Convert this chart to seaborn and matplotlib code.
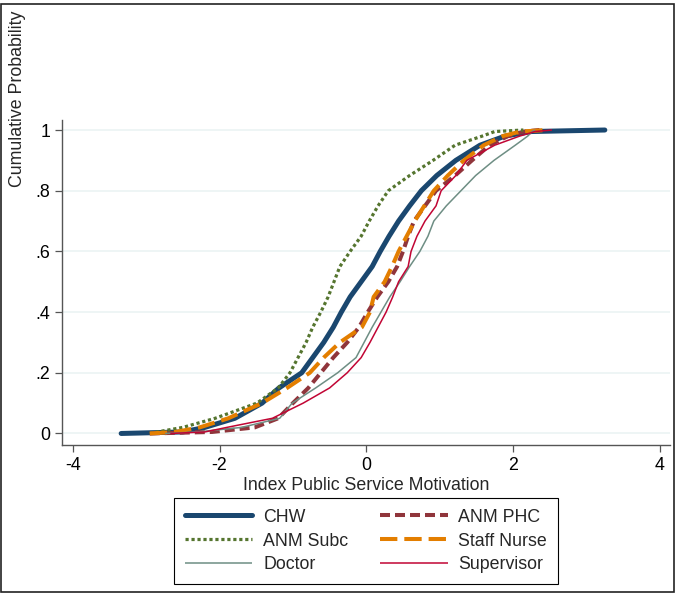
import numpy as np
import pandas as pd
import matplotlib
matplotlib.use('Agg')
import matplotlib.pyplot as plt
import matplotlib.patches as patches
import seaborn as sns

# cumulative probability levels and the index values
cum_prob = [0, 0.005, 0.02, 0.05, 0.1, 0.15, 0.2, 0.25, 0.3, 0.35, 0.4, 0.45, 0.5,
            0.55, 0.6, 0.65, 0.7, 0.75, 0.8, 0.85, 0.9, 0.95, 0.98, 0.995, 1.0]

chw = [-3.34, -2.50, -2.20, -1.79, -1.42, -1.19, -0.88, -0.73, -0.58, -0.45, -0.34, -0.22, -0.07,
       0.08, 0.19, 0.31, 0.44, 0.59, 0.75, 0.96, 1.22, 1.55, 1.89, 2.25, 3.25]
anm_phc = [-2.95, -2.10, -1.52, -1.20, -1.00, -0.79, -0.62, -0.45, -0.26, -0.10, 0.02, 0.15, 0.30,
           0.42, 0.50, 0.57, 0.65, 0.80, 0.95, 1.21, 1.44, 1.68, 1.93, 2.15, 2.36]
anm_subc = [-2.95, -2.85, -2.50, -2.06, -1.49, -1.20, -1.04, -0.93, -0.82, -0.73, -0.62, -0.52, -0.44,
            -0.36, -0.22, -0.07, 0.04, 0.16, 0.30, 0.59, 0.91, 1.21, 1.58, 1.75, 2.14]
staff_nurse = [-2.95, -2.60, -2.27, -1.88, -1.42, -1.08, -0.77, -0.58, -0.36, -0.06, 0.05, 0.10, 0.25,
               0.35, 0.44, 0.55, 0.66, 0.79, 0.92, 1.11, 1.33, 1.60, 1.86, 2.10, 2.46]
doctor = [-2.74, -2.30, -1.70, -1.18, -1.01, -0.69, -0.39, -0.14, -0.03, 0.08, 0.20, 0.32, 0.46,
          0.59, 0.73, 0.84, 0.92, 1.09, 1.29, 1.49, 1.74, 2.03, 2.20, 2.26, 2.30]
supervisor = [-2.67, -2.20, -1.90, -1.28, -0.86, -0.50, -0.26, -0.07, 0.05, 0.16, 0.27, 0.36, 0.44,
              0.57, 0.61, 0.69, 0.80, 0.95, 1.02, 1.22, 1.37, 1.75, 2.09, 2.30, 2.53]

groups = ['CHW', 'ANM PHC', 'ANM Subc', 'Staff Nurse', 'Doctor', 'Supervisor']
values = [chw, anm_phc, anm_subc, staff_nurse, doctor, supervisor]

x_ticks = [-4, -2, 0, 2, 4]
x_ticklabels = ['-4', '-2', '0', '2', '4']
y_ticks = [0, 0.2, 0.4, 0.6, 0.8, 1]
y_ticklabels = ['0', '.2', '.4', '.6', '.8', '1']

# styling (Stata s2color-like)
colors = ['#1a476f', '#90353b', '#55752f', '#e37e00', '#6e8e84', '#c10534']
widths = [3.6, 2.9, 2.3, 2.9, 1.1, 1.1]
styles = ['-', (0, (7.2, 3.6)), (0, (2.3, 2.0)), (0, (12.5, 5.0)), '-', '-']
fs = 12.8

df = pd.concat([pd.DataFrame({'group': g, 'x': v, 'p': cum_prob})
                for g, v in zip(groups, values)], ignore_index=True)

sns.set_style('white')
plt.rcParams['font.family'] = ['Liberation Sans', 'DejaVu Sans']
plt.rcParams['lines.scale_dashes'] = False

fig = plt.figure(figsize=(6.75, 5.93), dpi=100)
ax = fig.add_axes([62 / 675, 1 - 445 / 593, (670 - 62) / 675, (445 - 120) / 593])

for g, c, w, s in zip(groups, colors, widths, styles):
    sns.lineplot(data=df[df['group'] == g], x='x', y='p', sort=False, estimator=None,
                 color=c, lw=w, linestyle=s, label=g, ax=ax,
                 solid_capstyle='round' if g == 'CHW' else 'butt')

ax.set_xlim(-4.146, 4.138)
ax.set_ylim(-0.038, 1.033)
ax.set_xticks(x_ticks)
ax.set_xticklabels(x_ticklabels)
ax.set_yticks(y_ticks)
ax.set_yticklabels(y_ticklabels)

ax.set_axisbelow(True)
ax.yaxis.grid(True, color='#eaf2f3', lw=1.1)
ax.xaxis.grid(False)
for side in ['top', 'right']:
    ax.spines[side].set_visible(False)
for side in ['left', 'bottom']:
    ax.spines[side].set_color('#555555')
    ax.spines[side].set_linewidth(1.0)
ax.tick_params(direction='out', length=5, width=0.9, color='#555555',
               labelsize=fs, labelcolor='black', pad=3.5, left=True, bottom=True)

ax.set_xlabel('Index Public Service Motivation', fontsize=fs, labelpad=2)
ax.set_ylabel('')
fig.text(18 / 675, 1 - 99 / 593, 'Cumulative Probability', rotation=90,
         ha='center', va='center', fontsize=fs)

# legend filled row-wise like Stata
handles, labels = ax.get_legend_handles_labels()
order = [0, 2, 4, 1, 3, 5]
leg = ax.legend([handles[i] for i in order], [labels[i] for i in order],
                ncol=2, loc='center', bbox_to_anchor=(366 / 675, 1 - 541 / 593),
                bbox_transform=fig.transFigure, fontsize=fs, frameon=True,
                fancybox=False, framealpha=1, edgecolor='black', borderpad=0.62,
                handlelength=3.8, handletextpad=0.6, columnspacing=1.8, labelspacing=0.39)
leg.get_frame().set_linewidth(0.8)

fig.patches.append(patches.Rectangle((0.0015, 0.002), 0.997, 0.992, transform=fig.transFigure,
                                     fill=False, edgecolor='#222222', lw=1.2))

fig.savefig('out.png', dpi=100)
